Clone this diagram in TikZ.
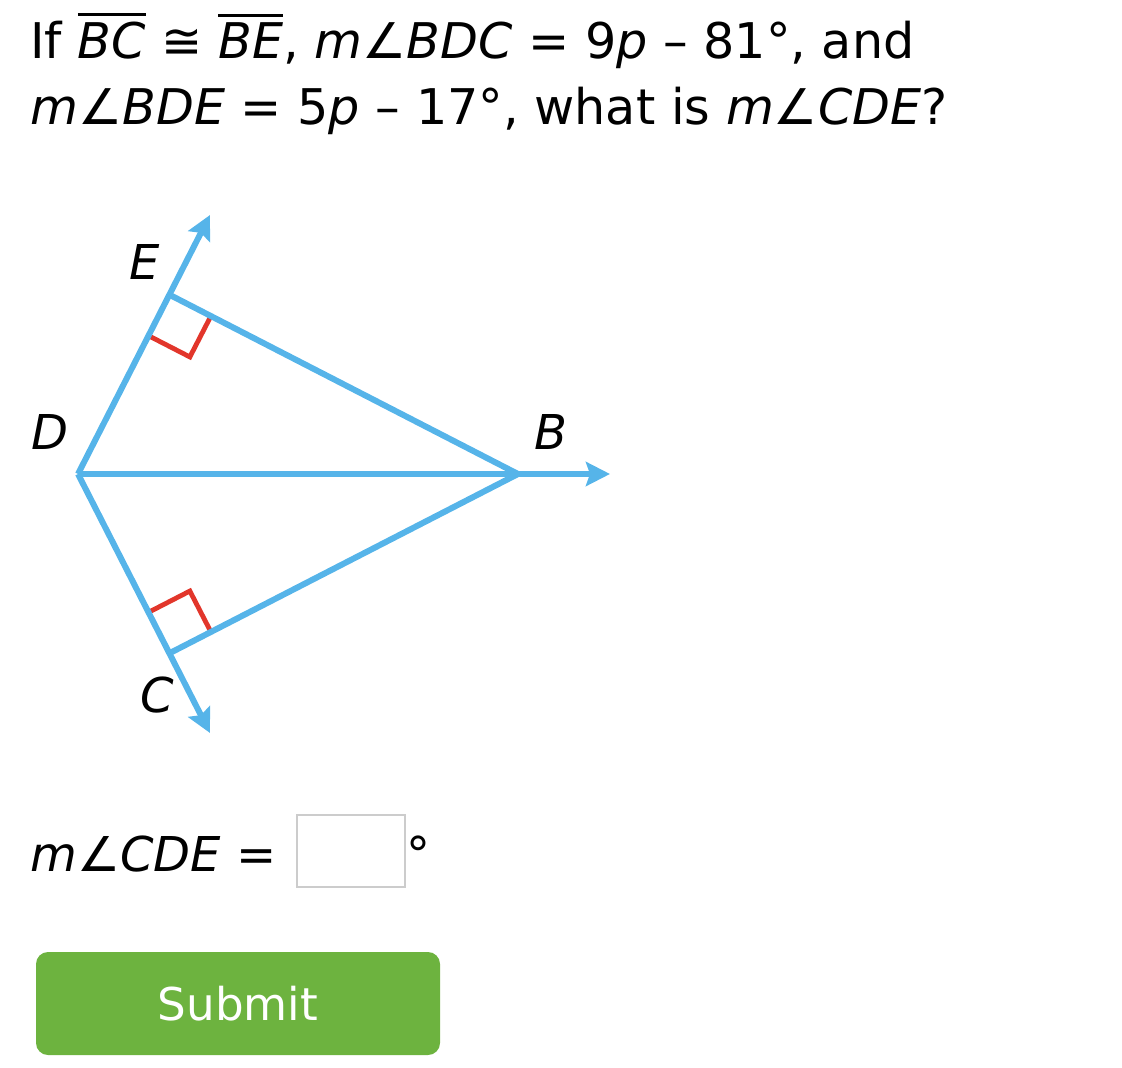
\documentclass[tikz,border=0pt]{standalone}
\usepackage{fontspec}
\setmainfont{DejaVu Sans}
\usepackage{tikz}
\usetikzlibrary{arrows.meta, calc}

\definecolor{rayblue}{HTML}{56B4E9}
\definecolor{markred}{HTML}{E2362B}
\definecolor{btngreen}{HTML}{6DB33F}
\definecolor{boxgray}{HTML}{CCCCCC}

\newcommand{\segbar}[1]{\vbox{\hrule height 1.3pt \kern 3.2pt \hbox{\textit{#1}}}}

\begin{document}
\begin{tikzpicture} [x=0.5pt, y=-0.5pt,
	every node/.style={font=\fontsize{24.6}{29}\selectfont, inner sep=0pt},
	ray/.style={draw=rayblue, line width=3pt, -{Stealth[length=12pt, width=12pt, inset=2pt]}},
	seg/.style={draw=rayblue, line width=3pt},
	rmark/.style={draw=markred, line width=2.4pt},
	ptlabel/.style={font=\fontsize{24}{29}\selectfont\itshape}]
	
	\useasboundingbox (0,0) rectangle (1122,1068);
	
	% question
	\node[anchor=base west] (line1) at (30,59) {If \segbar{BC} ≅ \segbar{BE}, \textit{m}∠\textit{BDC} = 9\textit{p} – 81°, and};
	\node[anchor=base west] (line2) at (30,125) {\textit{m}∠\textit{BDE} = 5\textit{p} – 17°, what is \textit{m}∠\textit{CDE}?};
	
	% figure points
	\coordinate (D) at (78,474);
	\coordinate (B) at (518,474);
	\coordinate (E) at (170,295);
	\coordinate (C) at (170,653);
	\coordinate (Eend) at (210,215);
	\coordinate (Cend) at (210,733);
	\coordinate (Bend) at (610,474);
	
	% right angle marks
	\coordinate (Ea) at ($(E)!23pt!(D)$);
	\coordinate (Eb) at ($(E)!23pt!(B)$);
	\coordinate (Ca) at ($(C)!23pt!(D)$);
	\coordinate (Cb) at ($(C)!23pt!(B)$);
	\draw[rmark] (Ea) -- ($(Ea)+(Eb)-(E)$) -- (Eb);
	\draw[rmark] (Ca) -- ($(Ca)+(Cb)-(C)$) -- (Cb);
	
	% rays and segments
	\draw[seg] (E) -- (B) -- (C);
	\draw[ray] (D) -- (Eend);
	\draw[ray] (D) -- (Cend);
	\draw[ray] (D) -- (Bend);
	
	\node[ptlabel] (labE) at (145,262) {E};
	\node[ptlabel] (labD) at (50,432) {D};
	\node[ptlabel] (labB) at (551,432) {B};
	\node[ptlabel] (labC) at (157,695) {C};
	
	% answer
	\node[anchor=base west, font=\fontsize{24}{29}\selectfont] (answer) at (30,871) {\textit{m}∠\textit{CDE} =};
	\draw[boxgray, line width=1.2pt] (297,815) rectangle (405,887);
	\node[anchor=base west, font=\fontsize{24}{29}\selectfont] (degree) at (406,871) {°};
	
	% button
	\fill[btngreen, rounded corners=6pt] (36,952) rectangle (440,1055);
	\node[text=white, anchor=base, font=\fontsize{22.6}{27}\selectfont] (submit) at (238,1020) {Submit};
	
\end{tikzpicture}
\end{document}
